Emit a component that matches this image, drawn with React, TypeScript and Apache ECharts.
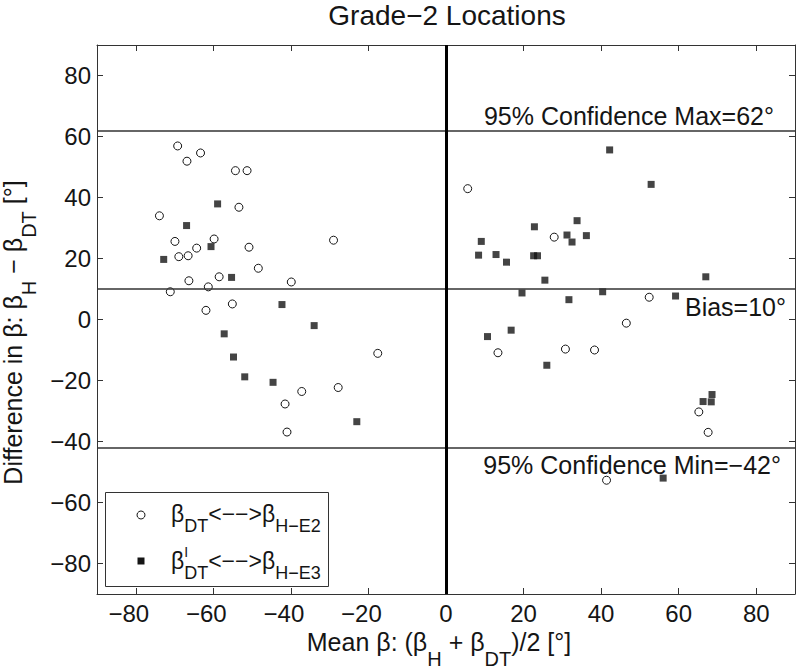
import React, { useEffect, useRef } from 'react';
import * as echarts from 'echarts';

const TITLE = 'Grade−2 Locations';
const axisMin = -90;
const axisMax = 90;
const axisTicks = [-80, -60, -40, -20, 0, 20, 40, 60, 80];

// β_DT <--> β_H-E2 (open circles): [mean, difference]
const openCircles: [number, number][] = [
  [-69.2, 56.9], [-63.3, 54.6], [-66.8, 51.9], [-54.3, 48.8], [-51.3, 48.8],
  [-53.4, 36.8], [-73.9, 34.0], [-69.9, 25.6], [-59.8, 26.4], [-64.3, 23.4],
  [-50.8, 23.7], [-29.0, 26.0], [-68.9, 20.6], [-66.5, 20.9], [-48.4, 16.8],
  [-66.3, 12.7], [-58.5, 14.0], [-61.3, 10.7], [-39.9, 12.3], [-71.1, 9.1],
  [-55.1, 5.1], [-61.9, 3.0], [-17.6, -11.1], [-27.8, -22.3], [-37.2, -23.6],
  [-41.5, -27.7], [-41.0, -36.9],
  [5.6, 42.9], [27.9, 27.0], [52.4, 7.3], [46.5, -1.2], [13.4, -10.9],
  [30.8, -9.7], [38.3, -10.0], [65.2, -30.3], [67.6, -37.0], [41.4, -52.7],
];

// β'_DT <--> β_H-E3 (filled squares): [mean, difference]
const filledSquares: [number, number][] = [
  [-58.9, 37.9], [-66.9, 30.8], [-60.6, 23.9], [-72.8, 19.7], [-55.3, 13.8],
  [-42.3, 4.9], [-34.0, -2.0], [-57.2, -4.7], [-54.8, -12.3], [-51.9, -18.8],
  [-44.6, -20.6], [-23.0, -33.5],
  [42.2, 55.6], [52.9, 44.3], [33.8, 32.4], [22.8, 30.4], [9.1, 25.6],
  [31.2, 27.7], [36.2, 27.5], [32.5, 25.4], [8.4, 21.1], [12.9, 21.3],
  [22.6, 20.9], [23.6, 20.9], [15.6, 18.8], [25.5, 12.9], [67.0, 14.0],
  [19.6, 8.7], [40.4, 9.1], [31.7, 6.5], [59.2, 7.7], [10.7, -5.6],
  [16.8, -3.5], [26.0, -15.0], [66.3, -26.9], [68.6, -24.6], [68.4, -27.0],
  [56.0, -52.0],
];

const limitValues = [62, 10, -42];
const limitLabels = ['95% Confidence Max=62°', 'Bias=10°', '95% Confidence Min=−42°'];
const zeroLineX = 0;

const FONT = '"Liberation Sans", Arial, Helvetica, sans-serif';
const INK = '#151515';

const fmtTick = (v: number) => String(v).replace('-', '−');
const fmtXTick = (v: number) => (v < 0 ? `{neg|−${-v}}` : `{pos|${v}}`);

export default function App() {
  const ref = useRef<HTMLDivElement>(null);

  useEffect(() => {
    document.body.style.margin = '0';
    if (!ref.current) return;
    const chart = echarts.init(ref.current, undefined, { renderer: 'svg' });

    const nameRich = {
      m: { fontSize: 25, lineHeight: 25, verticalAlign: 'top', fontFamily: FONT, color: INK },
      s: { fontSize: 20, lineHeight: 40, verticalAlign: 'top', padding: [19, 0, 0, 0], fontFamily: FONT, color: INK },
    };
    const legendRich = {
      m: { fontSize: 23, lineHeight: 23, verticalAlign: 'top', fontFamily: FONT, fill: INK },
      s: { fontSize: 18, lineHeight: 34, verticalAlign: 'top', padding: [15, 0, 0, 0], fontFamily: FONT, fill: INK },
    };
    const tickRich = {
      neg: { fontSize: 24, fontFamily: FONT, color: INK, padding: [0, 14, 0, 0] },
      pos: { fontSize: 24, fontFamily: FONT, color: INK },
    };

    const labelDist: [number, number][] = [[21, 2], [9, 5], [14, 5]];
    const labelPos = ['insideEndTop', 'insideEndBottom', 'insideEndBottom'];

    const xBase = {
      type: 'value',
      min: axisMin,
      max: axisMax,
      splitLine: { show: false },
      axisLine: { show: true, onZero: false, lineStyle: { color: '#333', width: 1 } },
      axisTick: { show: true, inside: true, length: 6, customValues: axisTicks, lineStyle: { color: '#333' } },
    };

    // β advance width at 23px in the legend, to place the split second entry
    const betaW = 13.2;

    chart.setOption({
      animation: false,
      backgroundColor: '#fff',
      title: {
        text: TITLE,
        left: 447,
        textAlign: 'center',
        top: 1,
        padding: 0,
        textStyle: { fontSize: 28, fontWeight: 'normal', fontFamily: FONT, color: INK },
      },
      grid: { left: 97, right: 5, top: 45, bottom: 75, containLabel: false, outerBoundsMode: 'none' },
      xAxis: [
        {
          ...xBase,
          position: 'bottom',
          axisLabel: {
            customValues: axisTicks,
            formatter: fmtXTick,
            rich: tickRich,
            fontSize: 24,
            fontFamily: FONT,
            color: INK,
            margin: 7,
          },
          name: '{m|Mean β: (β}{s|H}{m| + β}{s|DT}{m|)/2 [°]}',
          nameLocation: 'middle',
          nameGap: 35,
          nameTextStyle: { rich: nameRich, padding: [0, 14, 0, 0] },
        },
        { ...xBase, position: 'top', axisLabel: { show: false } },
      ],
      yAxis: [
        {
          ...xBase,
          position: 'left',
          axisLabel: {
            customValues: axisTicks,
            formatter: fmtTick,
            fontSize: 24,
            fontFamily: FONT,
            color: INK,
            margin: 6,
          },
          name: '{m|Difference in β: β}{s|H}{m| − β}{s|DT}{m| [°]}',
          nameLocation: 'middle',
          nameRotate: 90,
          nameGap: 41,
          nameTextStyle: { rich: nameRich, padding: [0, 26, 0, 0] },
        },
        { ...xBase, position: 'right', axisLabel: { show: false } },
      ],
      series: [
        {
          type: 'scatter',
          name: 'circles',
          data: openCircles,
          symbol: 'circle',
          symbolSize: 8,
          itemStyle: { color: '#fff', borderColor: INK, borderWidth: 1, opacity: 1 },
          z: 4,
          markLine: {
            silent: true,
            symbol: 'none',
            lineStyle: { color: '#333', width: 1.5, type: 'solid' },
            data: limitValues.map((v, i) => ({
              yAxis: v,
              label: {
                show: true,
                position: labelPos[i],
                distance: labelDist[i],
                formatter: limitLabels[i],
                fontSize: 25,
                fontFamily: FONT,
                color: INK,
              },
            })),
          },
        },
        {
          type: 'scatter',
          name: 'squares',
          data: filledSquares,
          symbol: 'rect',
          symbolSize: 7,
          itemStyle: { color: INK },
          z: 4,
          markLine: {
            silent: true,
            symbol: 'none',
            label: { show: false },
            lineStyle: { color: '#000', width: 3, type: 'solid' },
            data: [{ xAxis: zeroLineX }],
          },
        },
      ],
      graphic: [
        {
          type: 'group',
          z: 100,
          children: [
            {
              type: 'rect',
              shape: { x: 105.5, y: 492.5, width: 223, height: 94 },
              style: { fill: '#fff', stroke: '#333', lineWidth: 1 },
            },
            {
              type: 'circle',
              shape: { cx: 141, cy: 515, r: 4 },
              style: { fill: '#fff', stroke: INK, lineWidth: 1 },
            },
            {
              type: 'rect',
              shape: { x: 137.5, y: 557.5, width: 7, height: 7 },
              style: { fill: INK },
            },
            {
              type: 'text',
              x: 171,
              y: 502,
              style: {
                text: '{m|β}{s|DT}{m|<−−>β}{s|H−E2}',
                rich: legendRich,
                verticalAlign: 'top',
                fill: INK,
              },
            },
            {
              type: 'text',
              x: 171,
              y: 549,
              style: { text: '{m|β}', rich: legendRich, verticalAlign: 'top', fill: INK },
            },
            {
              type: 'text',
              x: 171 + betaW,
              y: 549,
              style: {
                text: '{s|DT}{m|<−−>β}{s|H−E3}',
                rich: legendRich,
                verticalAlign: 'top',
                fill: INK,
              },
            },
            {
              type: 'text',
              x: 171 + betaW,
              y: 545,
              style: { text: 'I', fontSize: 14, fontFamily: FONT, fill: INK, verticalAlign: 'top' },
            },
          ],
        },
      ],
    });

    return () => chart.dispose();
  }, []);

  return <div ref={ref} style={{ width: 800, height: 669 }} />;
}
